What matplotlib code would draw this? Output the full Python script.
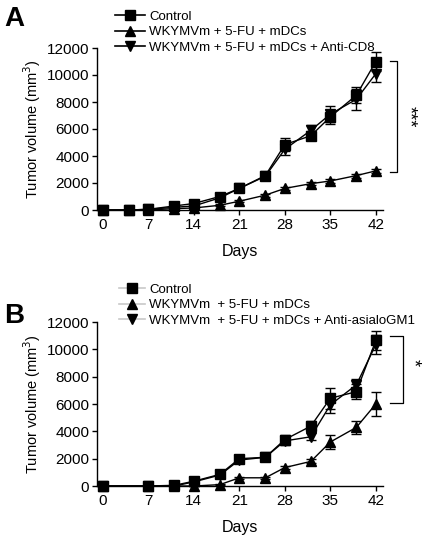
import matplotlib
matplotlib.use("Agg")
import matplotlib.pyplot as plt
from matplotlib.lines import Line2D

plt.rcParams['font.family'] = ['Liberation Sans', 'DejaVu Sans']

# ---- Panel A data ----
days_a = [0, 4, 7, 11, 14, 18, 21, 25, 28, 32, 35, 39, 42]
ctrl_a = [0, 0, 50, 300, 480, 1000, 1600, 2550, 4850, 5500, 6900, 8500, 11000]
ctrl_a_err = [0, 0, 20, 60, 80, 120, 150, 200, 500, 350, 500, 600, 700]
wky_a = [0, 0, 0, 100, 150, 350, 650, 1100, 1600, 1950, 2150, 2550, 2900]
wky_a_err = [0, 0, 0, 20, 30, 60, 80, 100, 120, 120, 130, 150, 150]
cd8_a = [0, 0, 50, 200, 300, 900, 1600, 2500, 4500, 5900, 7100, 8200, 10100]
cd8_a_err = [0, 0, 20, 50, 60, 100, 150, 200, 400, 400, 600, 800, 600]
labels_a = ["Control", "WKYMVm + 5-FU + mDCs", "WKYMVm + 5-FU + mDCs + Anti-CD8"]

# ---- Panel B data ----
days_b = [0, 7, 11, 14, 18, 21, 25, 28, 32, 35, 39, 42]
ctrl_b = [0, 0, 50, 350, 850, 2000, 2100, 3400, 4380, 6420, 6900, 10650]
ctrl_b_err = [0, 0, 20, 60, 100, 150, 150, 300, 400, 750, 550, 700]
wky_b = [0, 0, 0, 0, 100, 600, 600, 1350, 1800, 3220, 4290, 6000]
wky_b_err = [0, 0, 0, 0, 30, 60, 80, 120, 150, 500, 450, 850]
asialo_b = [0, 0, 0, 300, 800, 1900, 2100, 3300, 3600, 5940, 7400, 10350]
asialo_b_err = [0, 0, 0, 50, 100, 200, 150, 300, 250, 600, 400, 700]
labels_b = ["Control", "WKYMVm  + 5-FU + mDCs", "WKYMVm  + 5-FU + mDCs + Anti-asialoGM1"]

xticks = [0, 7, 14, 21, 28, 35, 42]
yticks = [0, 2000, 4000, 6000, 8000, 10000, 12000]

fig = plt.figure(figsize=(4.23, 5.41), dpi=100)
W, H = 423.0, 541.0

def setup(ax):
    ax.set_xlim(-0.9, 43.1)
    ax.set_ylim(0, 12000)
    ax.set_xticks(xticks)
    ax.set_yticks(yticks)
    ax.spines['top'].set_visible(False)
    ax.spines['right'].set_visible(False)
    for s in ['left', 'bottom']:
        ax.spines[s].set_linewidth(1.0)
    ax.tick_params(direction='out', length=3.5, width=1.0, labelsize=11, pad=2)
    ax.set_xlabel("Days", fontsize=11.5, labelpad=9)
    ax.set_ylabel("Tumor volume (mm$^3$)", fontsize=10.5, labelpad=3)

def series(ax, x, y, e, marker, ms):
    ax.errorbar(x, y, yerr=e, color='black', marker=marker, markersize=ms, lw=1.0,
                capsize=3.5, elinewidth=1.0, capthick=1.0, clip_on=False, zorder=3)

axA = fig.add_axes([97 / W, 1 - 210 / H, 286 / W, 162 / H])
setup(axA)
series(axA, days_a, ctrl_a, ctrl_a_err, 's', 7)
series(axA, days_a, wky_a, wky_a_err, '^', 6.5)
series(axA, days_a, cd8_a, cd8_a_err, 'v', 6.5)

axB = fig.add_axes([97 / W, 1 - 486 / H, 286 / W, 164 / H])
setup(axB)
series(axB, days_b, ctrl_b, ctrl_b_err, 's', 7)
series(axB, days_b, wky_b, wky_b_err, '^', 6.5)
series(axB, days_b, asialo_b, asialo_b_err, 'v', 6.5)

# Legends
def handles(linecolor):
    return [Line2D([], [], color=linecolor, lw=1.2, marker=m, markersize=ms,
                   markerfacecolor='black', markeredgecolor='black')
            for m, ms in [('s', 7), ('^', 6.5), ('v', 6.5)]]

legA = fig.legend(handles('black'), labels_a, loc='upper left',
                  bbox_to_anchor=(108 / W, 1 - 4 / H), frameon=False, fontsize=9.5,
                  handlelength=2.3, handletextpad=0.3, labelspacing=0.25, borderpad=0)
legB = fig.legend(handles('#c8c8c8'), labels_b, loc='upper left',
                  bbox_to_anchor=(112 / W, 1 - 277 / H), frameon=False, fontsize=9.5,
                  handlelength=2.0, handletextpad=0.3, labelspacing=0.25, borderpad=0)

# Panel letters
fig.text(4 / W, 1 - 26 / H, "A", fontsize=20, fontweight='bold')
fig.text(4 / W, 1 - 323 / H, "B", fontsize=20, fontweight='bold')

# Significance brackets (figure pixel coordinates)
def bracket(x_left, x_right, y_top, y_bot, text, tx, ty, size):
    fig.add_artist(Line2D([x_left / W, x_right / W, x_right / W, x_left / W],
                          [1 - y_top / H, 1 - y_top / H, 1 - y_bot / H, 1 - y_bot / H],
                          color='black', lw=0.9))
    fig.text(tx / W, 1 - ty / H, text, fontsize=size, rotation=270,
             ha='center', va='center')

bracket(390, 397, 61, 172, "***", 409, 117, 13)
bracket(390, 403, 336, 403, "*", 413, 363, 13)

fig.savefig("out.png", dpi=100)
